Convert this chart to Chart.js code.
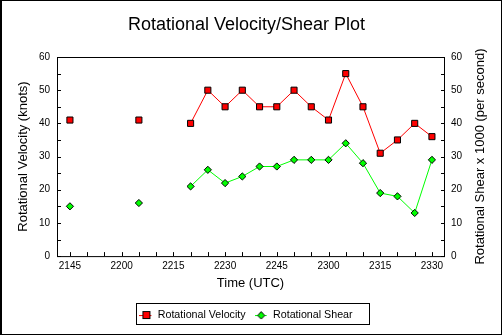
<!DOCTYPE html>
<html>
<head>
<meta charset="utf-8">
<script src="https://cdn.jsdelivr.net/npm/chart.js@4/dist/chart.umd.min.js"></script>
<style>
  html, body { margin: 0; padding: 0; background: #fff; }
  #wrap { width: 503px; height: 336px; }
</style>
</head>
<body>
<div id="wrap"><canvas id="c" width="503" height="336"></canvas></div>
<script>
// ---- data ----
const times = ['2145','2150','2155','2200','2205','2210','2215','2220','2225','2230','2235',
               '2240','2245','2250','2255','2300','2305','2310','2315','2320','2325','2330'];
const velocity = [41, null, null, null, 41, null, null, 40, 50, 45, 50,
                  45, 45, 50, 45, 41, 55, 45, 31, 35, 40, 36];
const shear    = [15, null, null, null, 16, null, null, 21, 26, 22, 24,
                  27, 27, 29, 29, 29, 34, 28, 19, 18, 13, 29];
const yTicks = [0, 10, 20, 30, 40, 50, 60];
const chartTitle = 'Rotational Velocity/Shear Plot';
const xTitle = 'Time (UTC)';
const yLeftTitle = 'Rotational Velocity (knots)';
const yRightTitle = 'Rotational Shear x 1000 (per second)';
const seriesNames = ['Rotational Velocity', 'Rotational Shear'];

const FONT = '"Liberation Sans", Arial, Helvetica, sans-serif';

function legendIcon(kind) {
  const c = document.createElement('canvas');
  c.width = 14; c.height = 10;
  const g = c.getContext('2d');
  g.lineWidth = 1;
  if (kind === 'rect') {
    g.strokeStyle = '#ff0000';
    g.beginPath(); g.moveTo(0, 5.5); g.lineTo(12, 5.5); g.stroke();
    g.fillStyle = '#ff0000';
    g.fillRect(3, 1, 8, 8);
    g.strokeStyle = '#000';
    g.strokeRect(3.5, 1.5, 7, 7);
  } else {
    g.strokeStyle = '#00ff00';
    g.beginPath(); g.moveTo(0, 5.5); g.lineTo(12, 5.5); g.stroke();
    g.fillStyle = '#00ff00';
    g.strokeStyle = '#000';
    g.beginPath();
    g.moveTo(6.5, 1.5); g.lineTo(10, 5.5); g.lineTo(6.5, 9); g.lineTo(3, 5.5); g.closePath();
    g.fill(); g.stroke();
  }
  return c;
}

const decor = {
  id: 'decor',
  beforeDraw(chart) {
    const ctx = chart.ctx;
    ctx.save();
    ctx.fillStyle = '#fff';
    ctx.fillRect(0, 0, chart.width, chart.height);
    ctx.restore();
  },
  afterDraw(chart) {
    const ctx = chart.ctx;
    const a = chart.chartArea;
    const xs = chart.scales.x, yl = chart.scales.y, yr = chart.scales.y1;
    ctx.save();
    ctx.strokeStyle = '#000';
    ctx.lineWidth = 1;
    // plot box
    ctx.strokeRect(a.left + 0.5, a.top + 0.5, a.right - a.left, a.bottom - a.top);
    // inward tick marks
    ctx.beginPath();
    times.forEach((t, i) => {
      const px = Math.round(xs.getPixelForValue(i)) + 0.5;
      ctx.moveTo(px, a.bottom); ctx.lineTo(px, a.bottom - 4);
    });
    for (let v = 0; v <= 60; v += 5) {
      const py = Math.round(yl.getPixelForValue(v)) + 0.5;
      ctx.moveTo(a.left, py); ctx.lineTo(a.left + 4, py);
      const pr = Math.round(yr.getPixelForValue(v)) + 0.5;
      ctx.moveTo(a.right + 1, pr); ctx.lineTo(a.right - 3, pr);
    }
    ctx.stroke();
    // right axis title, reading bottom to top
    ctx.fillStyle = '#000';
    ctx.font = '13px ' + FONT;
    ctx.textAlign = 'center';
    ctx.textBaseline = 'middle';
    ctx.translate(480, (a.top + a.bottom) / 2);
    ctx.rotate(-Math.PI / 2);
    ctx.fillText(yRightTitle, 0, 0);
    ctx.restore();
    // legend frame
    const hb = chart.legend.legendHitBoxes;
    if (hb && hb.length) {
      const first = hb[0], last = hb[hb.length - 1];
      const cy = first.top + first.height / 2;
      ctx.save();
      ctx.strokeStyle = '#000';
      ctx.lineWidth = 1;
      const l = Math.round(first.left - 4) + 0.5;
      const r = Math.round(last.left + last.width + 16) + 0.5;
      const t = Math.round(cy - 12) + 0.5;
      const b = Math.round(cy + 9) + 0.5;
      ctx.strokeRect(l, t, r - l, b - t);
      ctx.restore();
    }
    // outer frame
    ctx.save();
    ctx.fillStyle = '#000';
    ctx.fillRect(0, 0, 502, 1);
    ctx.fillRect(0, 0, 2, 335);
    ctx.fillRect(501, 0, 1, 335);
    ctx.fillRect(0, 334, 502, 1);
    ctx.restore();
  }
};

Chart.defaults.font.family = FONT;
Chart.defaults.color = '#000';

new Chart(document.getElementById('c'), {
  type: 'line',
  data: {
    datasets: [
      {
        label: seriesNames[0],
        data: velocity.map((v, i) => ({ x: i, y: v })),
        yAxisID: 'y',
        borderColor: '#ff0000',
        backgroundColor: '#ff0000',
        borderWidth: 1,
        pointStyle: 'rect',
        pointRadius: 4.3,
        pointBorderColor: '#000',
        pointBackgroundColor: '#ff0000',
        pointBorderWidth: 1,
        tension: 0,
        spanGaps: false
      },
      {
        label: seriesNames[1],
        data: shear.map((v, i) => ({ x: i, y: v })),
        yAxisID: 'y1',
        borderColor: '#00ff00',
        backgroundColor: '#00ff00',
        borderWidth: 1,
        pointStyle: 'rectRot',
        pointRadius: 3.6,
        pointBorderColor: '#000',
        pointBackgroundColor: '#00ff00',
        pointBorderWidth: 1,
        tension: 0,
        spanGaps: false
      }
    ]
  },
  options: {
    responsive: false,
    animation: false,
    layout: { padding: { top: 0, left: 0, right: 10, bottom: 5.6 } },
    plugins: {
      title: {
        display: true,
        text: chartTitle,
        font: { size: 18, weight: 'normal', family: FONT },
        color: '#000',
        padding: { top: 14, bottom: 21.4 }
      },
      legend: {
        position: 'bottom',
        labels: {
          usePointStyle: true,
          pointStyleWidth: 12,
          boxHeight: 10.7,
          padding: 10,
          font: { size: 10.7, family: FONT },
          color: '#000',
          generateLabels: (chart) => seriesNames.map((n, i) => ({
            text: n,
            pointStyle: legendIcon(i === 0 ? 'rect' : 'rot'),
            fillStyle: 'transparent',
            strokeStyle: 'transparent',
            lineWidth: 0,
            datasetIndex: i,
            hidden: false
          }))
        }
      },
      tooltip: { enabled: false }
    },
    scales: {
      x: {
        type: 'linear',
        position: 'bottom',
        min: -0.75,
        max: 21.7,
        afterBuildTicks: (s) => { s.ticks = times.map((t, i) => ({ value: i })); },
        afterFit: (s) => { s.height = 43.6; },
        grid: { display: false, drawTicks: false },
        border: { display: false },
        ticks: {
          autoSkip: false,
          maxRotation: 0,
          padding: 4,
          font: { size: 10, family: FONT },
          color: '#000',
          callback: (v) => (Number.isInteger(v) && v % 3 === 0) ? times[v] : ''
        },
        title: {
          display: true,
          text: xTitle,
          font: { size: 13, family: FONT },
          color: '#000',
          padding: { top: 0, bottom: 8 }
        }
      },
      y: {
        type: 'linear',
        position: 'left',
        min: 0,
        max: 60,
        afterBuildTicks: (s) => { s.ticks = yTicks.map(v => ({ value: v })); },
        afterFit: (s) => { s.width = 57; },
        grid: { display: false, drawTicks: false },
        border: { display: false },
        ticks: { padding: 7, font: { size: 10, family: FONT }, color: '#000' },
        title: {
          display: true,
          text: yLeftTitle,
          font: { size: 13, family: FONT },
          color: '#000',
          padding: { top: 16, bottom: 0 }
        }
      },
      y1: {
        type: 'linear',
        position: 'right',
        min: 0,
        max: 60,
        afterBuildTicks: (s) => { s.ticks = yTicks.map(v => ({ value: v })); },
        afterFit: (s) => { s.width = 49; },
        grid: { display: false, drawTicks: false },
        border: { display: false },
        ticks: { padding: 7, font: { size: 10, family: FONT }, color: '#000' }
      }
    }
  },
  plugins: [decor]
});
</script>
</body>
</html>
